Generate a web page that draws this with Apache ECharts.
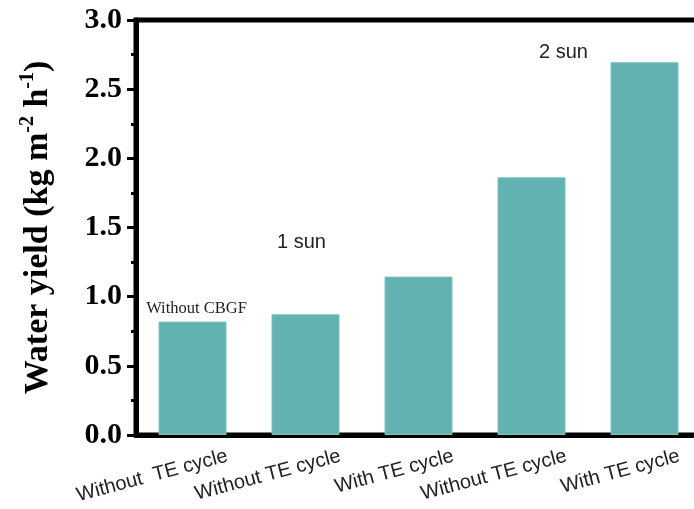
<!DOCTYPE html>
<html>
<head>
<meta charset="utf-8">
<script src="https://cdn.jsdelivr.net/npm/echarts@6/dist/echarts.min.js"></script>
<style>
  html, body { margin: 0; padding: 0; background: #fff; }
  #chart { width: 694px; height: 509px; }
</style>
</head>
<body>
<div id="chart"></div>
<script>
// categories along the x axis
var categories = ['Without  TE cycle', 'Without TE cycle', 'With TE cycle', 'Without TE cycle', 'With TE cycle'];
// water yield, kg m-2 h-1
var yieldValues = [0.82, 0.873, 1.145, 1.863, 2.695];
var yTicks = { min: 0, max: 3, interval: 0.5 };

var barColor = '#63b2b2';

var seriesData = yieldValues.map(function (v, i) {
	var item = { value: v };
	// only the first bar carries a label
	if (i === 0) {
		item.label = {
			show: true,
			position: 'top',
			distance: 4,
			offset: [4, 0],
			formatter: 'Without CBGF',
			fontFamily: 'Liberation Serif',
			fontSize: 16.5,
			color: '#222'
		};
	}
	return item;
});

var option = {
	backgroundColor: '#fff',
	animation: false,
	grid: {
		left: 136,
		width: 565,
		top: 20,
		bottom: 74,
		outerBoundsMode: 'none',
		containLabel: false,
		show: true,
		borderColor: '#000',
		borderWidth: 5
	},
	xAxis: {
		type: 'category',
		data: categories,
		axisLine: { lineStyle: { color: '#000', width: 5 } },
		axisTick: { show: false },
		axisLabel: {
			interval: 0,
			rotate: 15,
			margin: 30,
			padding: [0, -36, 0, 0],
			fontFamily: 'Liberation Sans',
			fontSize: 20,
			color: '#222'
		}
	},
	yAxis: {
		type: 'value',
		min: yTicks.min,
		max: yTicks.max,
		interval: yTicks.interval,
		name: 'Water yield (kg m{sup|-2} h{sup|-1})',
		nameLocation: 'middle',
		nameRotate: 90,
		nameGap: 78,
		nameTextStyle: {
			fontFamily: 'Liberation Serif',
			fontWeight: 'bold',
			fontSize: 34,
			color: '#000',
			rich: {
				sup: {
					fontFamily: 'Liberation Serif',
					fontWeight: 'bold',
					fontSize: 20,
					color: '#000',
					padding: [0, 0, 20, 0]
				}
			}
		},
		axisLine: { show: true, lineStyle: { color: '#000', width: 5 } },
		axisTick: { show: true, inside: false, length: 9, lineStyle: { color: '#000', width: 3 } },
		minorTick: { show: true, splitNumber: 2, length: 5, lineStyle: { color: '#000', width: 3 } },
		splitLine: { show: false },
		axisLabel: {
			margin: 14,
			fontFamily: 'Liberation Serif',
			fontWeight: 'bold',
			fontSize: 30,
			color: '#000',
			formatter: function (v) { return v.toFixed(1); }
		}
	},
	graphic: [
		{
			type: 'text',
			left: 277,
			top: 232,
			style: { text: '1 sun', font: '20px "Liberation Sans"', fill: '#222' }
		},
		{
			type: 'text',
			left: 539,
			top: 42,
			style: { text: '2 sun', font: '20px "Liberation Sans"', fill: '#222' }
		}
	],
	series: [
		{
			type: 'bar',
			data: seriesData,
			barWidth: 68,
			itemStyle: {
				color: barColor,
				borderColor: '#7ec2c2',
				borderWidth: 1
			}
		}
	]
};

var chart = echarts.init(document.getElementById('chart'));
chart.setOption(option);
</script>
</body>
</html>
